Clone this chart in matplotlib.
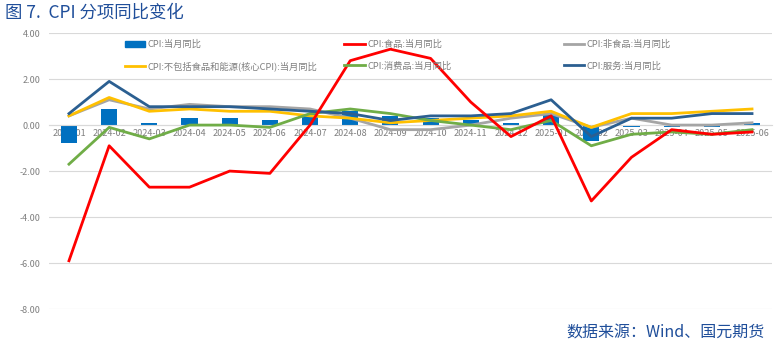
import numpy as np
import matplotlib
matplotlib.use("Agg")
import matplotlib.pyplot as plt
from matplotlib.lines import Line2D
from matplotlib.patches import Patch
from matplotlib.legend import Legend

plt.rcParams['font.family'] = ['Noto Sans CJK SC', 'DejaVu Sans']

months = ["2024-01", "2024-02", "2024-03", "2024-04", "2024-05", "2024-06",
          "2024-07", "2024-08", "2024-09", "2024-10", "2024-11", "2024-12",
          "2025-01", "2025-02", "2025-03", "2025-04", "2025-05", "2025-06"]
cpi = [-0.8, 0.7, 0.1, 0.3, 0.3, 0.2, 0.5, 0.6, 0.4, 0.3, 0.2, 0.1,
       0.5, -0.7, -0.1, -0.1, -0.1, 0.1]
food = [-5.9, -0.9, -2.7, -2.7, -2.0, -2.1, 0.0, 2.8, 3.3, 2.9, 1.0, -0.5,
        0.4, -3.3, -1.4, -0.2, -0.4, -0.3]
nonfood = [0.4, 1.1, 0.7, 0.9, 0.8, 0.8, 0.7, 0.3, -0.2, -0.2, 0.0, 0.3,
           0.5, -0.1, 0.3, 0.0, 0.0, 0.1]
core = [0.4, 1.2, 0.6, 0.7, 0.6, 0.6, 0.4, 0.3, 0.1, 0.2, 0.3, 0.4,
        0.6, -0.1, 0.5, 0.5, 0.6, 0.7]
goods = [-1.7, -0.1, -0.6, 0.0, 0.0, -0.1, 0.5, 0.7, 0.5, 0.2, 0.0, -0.2,
         0.2, -0.9, -0.4, -0.3, -0.4, -0.2]
services = [0.5, 1.9, 0.8, 0.8, 0.8, 0.7, 0.6, 0.5, 0.2, 0.4, 0.4, 0.5,
            1.1, -0.5, 0.3, 0.3, 0.5, 0.5]

names = ["CPI:当月同比", "CPI:食品:当月同比", "CPI:非食品:当月同比",
         "CPI:不包括食品和能源(核心CPI):当月同比", "CPI:消费品:当月同比", "CPI:服务:当月同比"]
colors = ["#0070C0", "#FF0000", "#A5A5A5", "#FFC000", "#70AD47", "#2B5F91"]

fig = plt.figure(figsize=(7.76, 3.52), dpi=100)
ax = fig.add_axes([0.063, 0.122, 0.932, 0.784])

x = np.arange(len(months))
ax.bar(x, cpi, width=0.4, color=colors[0], zorder=2)
series = [food, nonfood, core, goods, services]
# draw grey/yellow/green first, then services and food on top
for i in [2, 3, 4, 5, 1]:
    ax.plot(x, series[i - 1], color=colors[i], lw=2, zorder=3)

ax.set_xlim(-0.5, len(months) - 0.5)
ax.set_ylim(-8, 4)
ax.set_yticks(np.arange(-8, 4.1, 2))
ax.set_yticklabels([f"{v:.2f}" for v in np.arange(-8, 4.1, 2)])
ax.yaxis.grid(True, color="#D9D9D9", lw=0.8, zorder=0)
ax.set_axisbelow(True)
for s in ["top", "right", "left"]:
    ax.spines[s].set_visible(False)
ax.spines["bottom"].set_position(("data", 0))
ax.spines["bottom"].set_color("#D9D9D9")
ax.set_xticks(x)
ax.set_xticklabels(months)
ax.tick_params(axis="x", length=0, labelsize=6.5, labelcolor="#7F7F7F", pad=3)
ax.tick_params(axis="y", length=0, labelsize=6.5, labelcolor="#7F7F7F", pad=6)

# legend: three columns, two rows
cols = [[0, 3], [1, 4], [2, 5]]
xpos = [0.093, 0.397, 0.70]
for c, xp in zip(cols, xpos):
    handles = []
    for i in c:
        if i == 0:
            handles.append(Patch(color=colors[0]))
        else:
            handles.append(Line2D([], [], color=colors[i], lw=2))
    leg = Legend(ax, handles, [names[i] for i in c], loc="upper left",
                 bbox_to_anchor=(xp, 1.005), frameon=False, fontsize=6.7,
                 labelcolor="#7F7F7F", handlelength=2.2, handleheight=0.6,
                 labelspacing=1.3, handletextpad=0.3)
    ax.add_artist(leg)

fig.text(0.006, 0.965, "图 7.  CPI 分项同比变化", color="#1F4E9A", fontsize=12.5,
         ha="left", va="center")
fig.text(0.985, 0.055, "数据来源：Wind、国元期货", color="#1F4E9A", fontsize=11.5,
         ha="right", va="center")

fig.savefig("out.png", dpi=100)
